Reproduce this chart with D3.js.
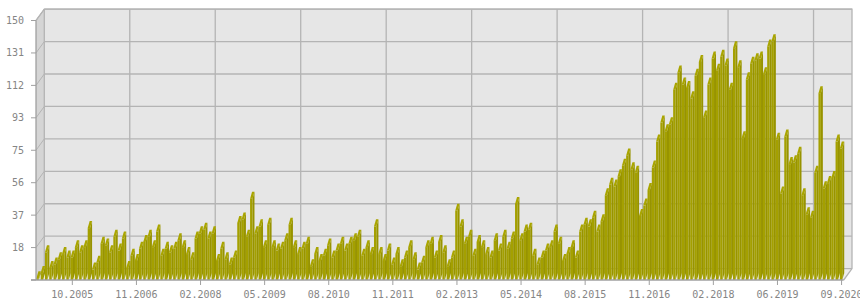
<!DOCTYPE html>
<html>
<head>
<meta charset="utf-8">
<script src="https://cdnjs.cloudflare.com/ajax/libs/d3/7.8.5/d3.min.js"></script>
<style>
  body { margin: 0; background: #ffffff; }
  svg text { font-family: "DejaVu Sans Mono", monospace; font-size: 10px; fill: #858585; }
</style>
</head>
<body>
<script>
// monthly values, one bar each
var values = [
  1,4,16,7,9,12,15,13,13,19,16,19,30,6,10,21,20,16,25,17,24,7,14,11,18,22,25,19,28,14,18,16,18,23,19,15,12,24,27,
  29,24,27,11,18,12,9,13,33,35,25,47,27,31,19,32,19,17,18,23,32,19,15,18,21,8,15,11,14,20,13,17,21,17,21,23,25,14,19,15,31,15,11,17,9,15,8,13,19,12,6,10,19,
  21,13,22,16,8,13,40,31,21,25,14,22,19,15,13,23,17,25,18,24,44,23,28,29,14,9,13,17,19,28,21,11,15,19,13,28,32,31,36,28,34,49,55,54,60,66,72,64,62,37,43,52,65,80,
  91,86,90,110,120,113,111,105,118,126,94,113,128,121,129,124,110,134,123,82,116,125,127,128,119,135,138,81,50,83,67,68,73,49,38,36,62,108,53,56,59,80,76
];
var xTickIdx = [8, 23, 38, 53, 68, 83, 98, 113, 128, 143, 158, 173, 188];
var xTickLabels = ["10.2005","11.2006","02.2008","05.2009","08.2010","11.2011","02.2013",
                   "05.2014","08.2015","11.2016","02.2018","06.2019","09.2020"];
var yTicks = [0, 18.75, 37.5, 56.25, 75, 93.75, 112.5, 131.25, 150];
var yTickLabels = ["", "18", "37", "56", "75", "93", "112", "131", "150"];
var gridEvery = 20;

var W = 860, H = 300;
var pLeft = 36, pRight = 843.7, pBase = 280, pTop = 20.5;
var DX = 8.3, DY = 11.4;      // depth of the walls
var bw = 2.4, bdx = 2.0, bdy = 7;   // bar front width and bar depth

var svg = d3.select("body").append("svg")
  .attr("width", W)
  .attr("height", H);

var x = d3.scaleBand().domain(d3.range(values.length)).range([pLeft, pRight]).padding(0);
var y = d3.scaleLinear().domain([0, 150]).range([pBase, pTop]);

var grey = "#b4b4b4";

// back wall
svg.append("rect")
  .attr("x", pLeft + DX).attr("y", pTop - DY)
  .attr("width", pRight - pLeft).attr("height", pBase - pTop)
  .attr("fill", "#e6e6e6");
// left wall
svg.append("path")
  .attr("d", "M" + pLeft + "," + pBase + "L" + pLeft + "," + pTop + "L" + (pLeft + DX) + "," + (pTop - DY) +
             "L" + (pLeft + DX) + "," + (pBase - DY) + "Z")
  .attr("fill", "#d5d5d5");
// floor
svg.append("path")
  .attr("d", "M" + pLeft + "," + pBase + "L" + pRight + "," + pBase + "L" + (pRight + DX) + "," + (pBase - DY) +
             "L" + (pLeft + DX) + "," + (pBase - DY) + "Z")
  .attr("fill", "#eeeeee");

// horizontal grid on back wall and left wall
yTicks.forEach(function (t) {
  svg.append("line")
    .attr("x1", pLeft + DX).attr("x2", pRight + DX)
    .attr("y1", y(t) - DY).attr("y2", y(t) - DY)
    .attr("stroke", grey).attr("stroke-width", 1.3);
  svg.append("line")
    .attr("x1", pLeft).attr("x2", pLeft + DX)
    .attr("y1", y(t)).attr("y2", y(t) - DY)
    .attr("stroke", grey).attr("stroke-width", 1);
});

// vertical grid on back wall
for (var k = gridEvery; k < values.length; k += gridEvery) {
  svg.append("line")
    .attr("x1", x(k) + DX).attr("x2", x(k) + DX)
    .attr("y1", pTop - DY).attr("y2", pBase - DY)
    .attr("stroke", grey).attr("stroke-width", 1.3);
}

// wall borders
svg.append("path")
  .attr("d", "M" + pLeft + "," + pTop + "L" + (pLeft + DX) + "," + (pTop - DY) + "L" + (pRight + DX) + "," + (pTop - DY) +
             "L" + (pRight + DX) + "," + (pBase - DY) + "L" + pRight + "," + pBase)
  .attr("fill", "none").attr("stroke", grey).attr("stroke-width", 1.3);
svg.append("line")
  .attr("x1", pLeft + DX).attr("x2", pLeft + DX)
  .attr("y1", pTop - DY).attr("y2", pBase - DY)
  .attr("stroke", grey).attr("stroke-width", 1.3);

// bars
var bars = svg.append("g");
values.forEach(function (v, i) {
  var x0 = x(i) + 0.4, x1 = x0 + bw, yt = y(v);
  var g = bars.append("g");
  g.append("path")  // side
    .attr("d", "M" + x1 + "," + pBase + "L" + (x1 + bdx) + "," + (pBase - bdy) + "L" + (x1 + bdx) + "," + (yt - bdy) +
               "L" + x1 + "," + yt + "Z")
    .attr("fill", "#979300");
  g.append("path")  // top
    .attr("d", "M" + x0 + "," + yt + "L" + x1 + "," + yt + "L" + (x1 + bdx) + "," + (yt - bdy) +
               "L" + (x0 + bdx) + "," + (yt - bdy) + "Z")
    .attr("fill", "#a9a500");
  g.append("rect")  // front
    .attr("x", x0).attr("y", yt)
    .attr("width", bw).attr("height", pBase - yt)
    .attr("fill", "#a4a000");
});

// axes
var axisCol = "#a0a0a0";
svg.append("line")
  .attr("x1", pLeft).attr("x2", pLeft).attr("y1", pTop).attr("y2", pBase)
  .attr("stroke", axisCol).attr("stroke-width", 1.3);
svg.append("line")
  .attr("x1", pLeft - 5).attr("x2", pRight).attr("y1", pBase).attr("y2", pBase)
  .attr("stroke", axisCol).attr("stroke-width", 1.3);

yTicks.forEach(function (t, i) {
  svg.append("line")
    .attr("x1", pLeft - 5).attr("x2", pLeft)
    .attr("y1", y(t)).attr("y2", y(t))
    .attr("stroke", axisCol).attr("stroke-width", 1);
  svg.append("text")
    .attr("x", 24).attr("y", y(t) + 3.5)
    .attr("text-anchor", "end")
    .text(yTickLabels[i]);
});

xTickIdx.forEach(function (idx, i) {
  var cx = x(idx) + x.bandwidth() / 2;
  svg.append("line")
    .attr("x1", cx).attr("x2", cx)
    .attr("y1", pBase).attr("y2", pBase + 5)
    .attr("stroke", axisCol).attr("stroke-width", 1);
  svg.append("text")
    .attr("x", cx).attr("y", 297.5)
    .attr("text-anchor", "middle")
    .text(xTickLabels[i]);
});
</script>
</body>
</html>
